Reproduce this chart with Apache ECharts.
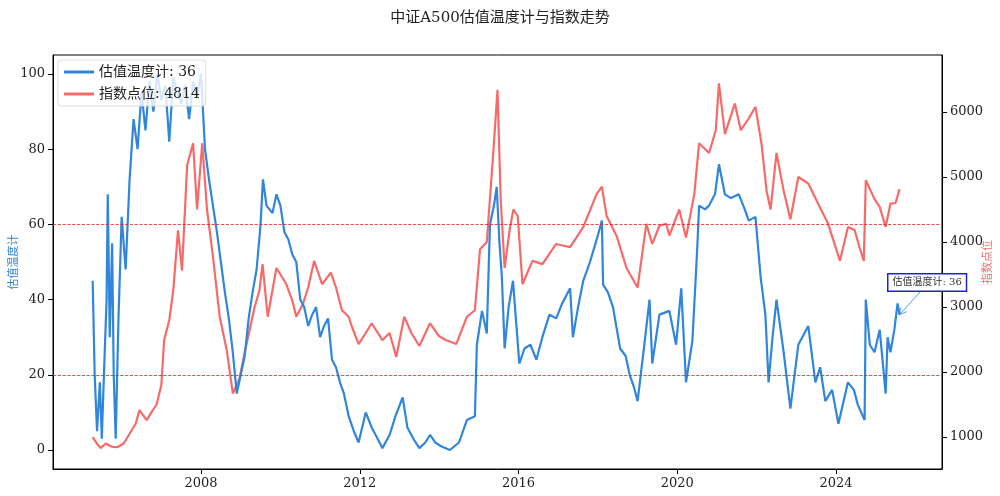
<!DOCTYPE html>
<html><head><meta charset="utf-8">
<script src="https://cdn.jsdelivr.net/npm/echarts@6/dist/echarts.min.js"></script>
<style>html,body{margin:0;padding:0;background:#fff}#c{width:1000px;height:496px}</style>
</head><body><div id="c"></div>
<script>
// Valuation temperature (left axis), sampled at decimal years
const tempYears = [2005.27,2005.32,2005.38,2005.45,2005.5,2005.56,2005.62,2005.65,2005.7,2005.76,2005.8,2005.85,2005.92,2006.0,2006.1,2006.2,2006.3,2006.4,2006.5,2006.6,2006.7,2006.8,2006.9,2007.0,2007.1,2007.2,2007.3,2007.4,2007.5,2007.6,2007.7,2007.8,2007.9,2008.0,2008.1,2008.2,2008.3,2008.4,2008.5,2008.6,2008.7,2008.8,2008.9,2009.0,2009.1,2009.2,2009.3,2009.4,2009.5,2009.56,2009.65,2009.8,2009.9,2010.0,2010.1,2010.2,2010.3,2010.4,2010.5,2010.6,2010.7,2010.8,2010.9,2011.0,2011.1,2011.2,2011.3,2011.4,2011.5,2011.6,2011.72,2011.85,2011.97,2012.15,2012.3,2012.45,2012.57,2012.75,2012.9,2013.08,2013.2,2013.35,2013.5,2013.65,2013.77,2013.9,2014.05,2014.27,2014.5,2014.7,2014.9,2014.95,2015.08,2015.2,2015.28,2015.38,2015.45,2015.52,2015.58,2015.65,2015.75,2015.86,2016.02,2016.15,2016.3,2016.45,2016.6,2016.78,2016.95,2017.1,2017.3,2017.37,2017.5,2017.63,2017.8,2017.97,2018.1,2018.13,2018.25,2018.38,2018.56,2018.7,2018.8,2018.9,2019.0,2019.17,2019.3,2019.37,2019.55,2019.8,2019.97,2020.1,2020.22,2020.38,2020.5,2020.55,2020.7,2020.8,2020.95,2021.05,2021.2,2021.35,2021.55,2021.7,2021.8,2021.97,2022.1,2022.22,2022.3,2022.4,2022.5,2022.68,2022.85,2023.05,2023.3,2023.48,2023.6,2023.73,2023.9,2024.06,2024.3,2024.45,2024.55,2024.72,2024.75,2024.85,2024.97,2025.1,2025.25,2025.3,2025.37,2025.47,2025.55,2025.6];
const tempValues = [45,20,5,18,3,22,40,68,30,55,20,3,35,62,48,72,88,80,95,85,98,90,100,93,97,82,99,95,92,97,88,98,94,100,80,72,65,58,50,42,35,26,15,20,25,35,42,48,60,72,65,63,68,65,58,56,52,50,40,38,33,36,38,30,33,35,24,22,18,15,9,5,2,10,6,3,0.5,4,9,14,6,3,0.5,2,4,2,1,0,2,8,9,28,37,31,60,65,70,55,46,27,38,45,23,27,28,24,30,36,35,39,43,30,38,45,50,56,61,44,42,38,27,25,20,17,13,28,40,23,36,37,28,43,18,29,53,65,64,65,68,76,68,67,68,64,61,62,46,36,18,30,40,26,11,28,33,18,22,13,16,7,18,16,12,8,40,28,26,32,15,30,26,32,39,36];
// Index level (right axis)
const indexYears = [2005.27,2005.4,2005.47,2005.6,2005.75,2005.9,2006.05,2006.2,2006.35,2006.45,2006.63,2006.75,2006.88,2007.0,2007.07,2007.2,2007.3,2007.42,2007.52,2007.65,2007.8,2007.9,2008.03,2008.15,2008.3,2008.47,2008.65,2008.8,2008.97,2009.1,2009.2,2009.35,2009.47,2009.55,2009.68,2009.9,2010.15,2010.3,2010.4,2010.57,2010.7,2010.85,2011.05,2011.27,2011.4,2011.55,2011.72,2011.8,2011.97,2012.15,2012.3,2012.57,2012.75,2012.92,2013.12,2013.3,2013.5,2013.77,2014.0,2014.18,2014.43,2014.7,2014.9,2015.03,2015.2,2015.37,2015.47,2015.55,2015.65,2015.78,2015.87,2015.98,2016.1,2016.35,2016.6,2016.95,2017.3,2017.63,2017.97,2018.1,2018.22,2018.48,2018.72,2019.0,2019.22,2019.37,2019.55,2019.72,2019.8,2020.05,2020.22,2020.43,2020.55,2020.8,2020.97,2021.05,2021.2,2021.45,2021.6,2021.8,2021.97,2022.12,2022.25,2022.35,2022.5,2022.68,2022.85,2023.05,2023.3,2023.55,2023.8,2024.1,2024.3,2024.47,2024.6,2024.7,2024.75,2024.97,2025.1,2025.25,2025.37,2025.5,2025.6];
const indexValues = [1000,880,830,900,850,846,900,1050,1200,1415,1260,1380,1500,1800,2490,2800,3250,4180,3560,5180,5520,4500,5520,4500,3780,2850,2330,1670,1900,2300,2580,3000,3250,3660,2850,3600,3350,3100,2850,3050,3300,3710,3350,3530,3300,2950,2850,2700,2430,2600,2750,2490,2600,2230,2850,2600,2400,2750,2550,2490,2430,2850,2950,3890,4000,5430,6340,4660,3600,4200,4500,4400,3350,3710,3660,3970,3920,4230,4740,4850,4400,4080,3600,3300,4280,3970,4250,4280,4100,4500,4070,4740,5520,5370,5720,6440,5660,6130,5720,5900,6080,5520,4790,4500,5370,4790,4350,5000,4900,4590,4280,3710,4230,4180,3900,3710,4950,4660,4540,4230,4590,4600,4814];
const leftTicks = [0,20,40,60,80,100];
const rightTicks = [1000,2000,3000,4000,5000,6000];
const yearTicks = [2008,2012,2016,2020,2024];

const BLUE = '#2f86da', RED = '#f86a6a';
const FONT = "'DejaVu Serif','Noto Sans CJK SC',serif";
const pair = (xs, ys) => xs.map((x, i) => [x, ys[i]]);
const last = tempValues[tempValues.length - 1];
const lastIdx = indexValues[indexValues.length - 1];

const chart = echarts.init(document.getElementById('c'));
chart.setOption({
  animation: false,
  backgroundColor: '#fff',
  textStyle: { fontFamily: FONT },
  title: { text: '中证A500估值温度计与指数走势', left: 'center', top: 6,
    textStyle: { fontSize: 15, fontWeight: 'normal', color: '#222', fontFamily: FONT } },
  legend: {
    left: 58, top: 60, orient: 'vertical', itemWidth: 30, itemHeight: 3, itemGap: 8, icon: 'rect',
    backgroundColor: 'rgba(255,255,255,0.8)', borderColor: '#ddd', borderWidth: 1, borderRadius: 3, padding: [5, 6],
    textStyle: { fontSize: 14, color: '#222', fontFamily: FONT },
    data: ['估值温度计: ' + last, '指数点位: ' + lastIdx]
  },
  grid: { left: 53, right: 58, top: 55, bottom: 27, show: true, borderColor: '#000', borderWidth: 1,
    containLabel: false, outerBoundsMode: 'none' },
  xAxis: {
    type: 'value', min: 2004.27, max: 2026.67,
    axisLine: { onZero: false, lineStyle: { color: '#000' } },
    axisTick: { customValues: yearTicks, lineStyle: { color: '#000' } },
    axisLabel: { customValues: yearTicks, color: '#222', fontSize: 13, formatter: v => String(Math.round(v)) },
    splitLine: { show: false }
  },
  yAxis: [{
    type: 'value', min: -5.05, max: 105.05, position: 'left',
    axisLine: { show: true, onZero: false, lineStyle: { color: '#000' } },
    axisTick: { show: true, customValues: leftTicks, lineStyle: { color: '#000' } },
    axisLabel: { customValues: leftTicks, color: '#222', fontSize: 13 },
    splitLine: { show: false }
  }, {
    type: 'value', min: 508, max: 6877, position: 'right',
    axisLine: { show: true, onZero: false, lineStyle: { color: '#000' } },
    axisTick: { show: true, customValues: rightTicks, lineStyle: { color: '#000' } },
    axisLabel: { customValues: rightTicks, color: '#222', fontSize: 13, formatter: v => String(v) },
    splitLine: { show: false }
  }],
  series: [{
    name: '估值温度计: ' + last, type: 'line', yAxisIndex: 0, showSymbol: false, symbol: 'none',
    data: pair(tempYears, tempValues), lineStyle: { color: BLUE, width: 2.2 }, itemStyle: { color: BLUE },
    z: 3,
    markLine: { silent: true, symbol: 'none', label: { show: false },
      lineStyle: { color: '#d22', type: 'dashed', width: 0.8 },
      data: [{ yAxis: 60 }, { yAxis: 20 }] }
  }, {
    name: '指数点位: ' + lastIdx, type: 'line', yAxisIndex: 1, showSymbol: false, symbol: 'none',
    data: pair(indexYears, indexValues), lineStyle: { color: RED, width: 2.2 }, itemStyle: { color: RED },
    z: 2
  }]
});

// axis titles, annotation box + arrow pointing at the latest temperature value
const pt = chart.convertToPixel({ xAxisIndex: 0, yAxisIndex: 0 }, [tempYears[tempYears.length - 1], last]);
chart.setOption({
  graphic: [{
    type: 'text', x: 14, y: 262, rotation: Math.PI / 2, z: 10,
    style: { text: '估值温度计', fontSize: 11, fill: BLUE, fontFamily: FONT, align: 'center', verticalAlign: 'middle' }
  }, {
    type: 'text', x: 988, y: 262, rotation: Math.PI / 2, z: 10,
    style: { text: '指数点位', fontSize: 11, fill: RED, fontFamily: FONT, align: 'center', verticalAlign: 'middle' }
  }, {
    type: 'text', left: 887, top: 273, z: 10,
    style: { text: '估值温度计: ' + last, fontSize: 10, fill: '#333', fontFamily: FONT,
      backgroundColor: '#fff', borderColor: '#22c', borderWidth: 1.5, padding: [3, 4] }
  }, {
    type: 'line', z: 9, shape: { x1: 920, y1: 292, x2: pt[0], y2: pt[1] },
    style: { stroke: BLUE, lineWidth: 0.8 }
  }, {
    type: 'polyline', z: 9,
    shape: { points: [[pt[0] + 1, pt[1] - 7], [pt[0], pt[1]], [pt[0] + 7, pt[1] - 3]] },
    style: { stroke: BLUE, lineWidth: 0.8, fill: null }
  }]
});
</script></body></html>
